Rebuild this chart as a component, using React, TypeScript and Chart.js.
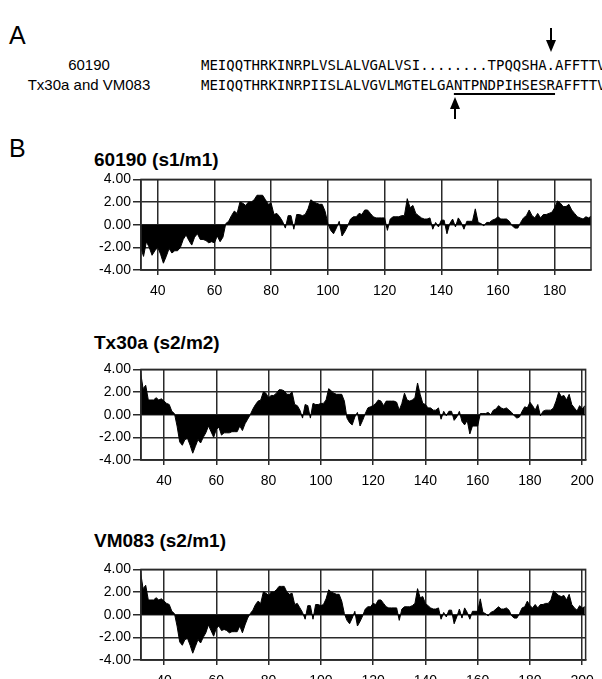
import React, { useEffect, useRef } from "react";
import { Chart, registerables } from "chart.js";

Chart.register(...registerables);

// ---------- DATA ----------
const seqLabel1 = "60190";
const seqLabel2 = "Tx30a and VM083";
const seq1 = "MEIQQTHRKINRPLVSLALVGALVSI........TPQQSHA.AFFTTV";
const seq2Pre = "MEIQQTHRKINRPIISLALVGVLMGTELGA";
const seq2Under = "NTPNDPIHSESR";
const seq2Post = "AFFTTV";

const title1 = "60190 (s1/m1)";
const title2 = "Tx30a (s2/m2)";
const title3 = "VM083 (s2/m1)";

const yTicks = [-4, -2, 0, 2, 4];
const xTicks1 = [40, 60, 80, 100, 120, 140, 160, 180];
const xTicks2 = [40, 60, 80, 100, 120, 140, 160, 180, 200];

// residue numbering of first value
const start60190 = 34;
const hyd60190 = [
  -2.0, -2.8, -1.5, -2.0, -2.7, -2.3, -2.0, -2.6, -3.4, -2.8,
  -2.1, -2.5, -2.3, -2.3, -2.0, -1.3, -0.9, -1.4, -1.8, -1.1,
  -0.8, -1.3, -1.3, -1.4, -1.6, -1.5, -1.6, -1.0, -1.5, -1.1,
  0.1, 0.3, 0.8, 1.2, 1.0, 2.0, 1.9, 1.7, 2.0, 2.0,
  2.2, 2.6, 2.6, 2.6, 2.2, 1.8, 1.9, 0.9, 1.0, 0.7,
  0.3, -0.3, 0.8, 0.8, -0.4, 0.9, 0.9, 0.8, 0.9, 1.4,
  2.2, 2.0, 1.9, 1.8, 1.8, 1.2, 0.1, -0.5, -0.8, -0.3,
  0.3, -1.0, -0.6, -0.1, 0.5, 0.7, 0.7, 1.0, 0.9, 1.3,
  1.3, 1.0, 0.7, 0.6, 0.6, 0.6, 0.6, -0.5, 0.5, 0.7,
  0.7, 0.7, 0.8, 0.8, 2.3, 1.5, 1.7, 1.0, 0.8, 0.6,
  0.5, 0.5, 0.6, -0.4, 0.2, -0.2, 0.4, 0.4, -0.8, 0.1,
  0.5, -0.2, 0.6, 0.2, -0.4, 0.3, 0.3, 0.3, 1.4, 0.2,
  0.1, -0.1, 0.2, 0.2, 0.4, 0.5, 0.7, 0.5, 0.5, 0.5,
  0.3, -0.1, -0.3, -0.3, 0.2, 0.6, 0.8, 1.3, 0.8, 0.6,
  1.0, 0.6, 0.9, 0.9, 1.0, 1.1, 1.5, 2.1, 1.9, 1.6,
  1.6, 1.8, 1.3, 1.0, 0.7, 0.6, 0.5, 0.7, 0.6, 0.8,
];

const startTx30a = 31;
const hydTx30a = [
  3.8, 2.3, 2.6, 1.3, 1.3, 1.3, 1.5, 1.3, 1.4, 1.2,
  1.0, 0.9, 0.3, 0.1, -1.0, -2.4, -2.7, -2.2, -2.1, -2.7,
  -3.4, -2.8, -2.2, -2.5, -2.0, -1.6, -1.0, -1.5, -2.0, -1.3,
  -1.1, -1.8, -1.6, -1.6, -1.6, -1.5, -1.5, -1.5, -1.0, -1.4,
  -0.8, -0.4, 0.0, 0.5, 0.9, 1.2, 1.3, 2.0, 1.9, 1.5,
  1.7, 1.7, 1.9, 2.2, 2.2, 2.1, 1.8, 1.8, 2.0, 0.9,
  0.8, 0.4, -0.3, 0.9, 0.8, -0.3, 1.0, 0.9, 0.9, 1.0,
  1.0, 1.3, 2.3, 2.1, 1.9, 1.8, 1.8, 1.8, 1.2, -0.3,
  -0.7, -0.9, -0.2, 0.2, -1.0, -0.5, 0.1, 0.6, 0.7, 0.8,
  1.0, 1.3, 1.2, 0.8, 1.2, 1.2, 1.2, 1.2, 1.1, 0.4,
  1.0, 1.9, 1.3, 1.2, 1.3, 1.5, 2.8, 1.8, 1.0, 0.9,
  0.6, 0.6, 0.4, 0.4, 0.6, -0.4, 0.3, -0.1, 0.3, 0.3,
  -0.5, -0.2, 0.3, -0.6, -0.9, -0.5, -1.7, -1.0, -1.0, -1.0,
  0.1, 0.1, 0.1, 0.2, 0.0, 0.4, 0.5, 0.8, 0.6, 0.5,
  0.6, 0.4, 0.2, -0.1, -0.3, -0.2, 0.3, 0.7, 0.6, 1.1,
  0.8, 0.4, 0.9, -0.1, 0.3, 0.4, 0.4, 0.4, 0.6, 1.2,
  2.0, 1.6, 1.7, 1.3, 1.8, 0.9, 0.6, 0.3, 0.8, 0.5,
  0.8,
];

const startVM083 = 31;
const hydVM083 = [
  3.8, 2.3, 2.6, 1.3, 1.3, 1.3, 1.5, 1.3, 1.4, 1.2,
  1.0, 0.9, 0.3, 0.1, -1.0, -2.4, -2.7, -2.2, -2.1, -2.7,
  -3.4, -2.8, -2.2, -2.5, -2.0, -1.6, -0.9, -1.4, -1.9, -1.2,
  -1.0, -1.4, -1.3, -1.4, -1.6, -1.5, -1.5, -1.5, -1.0, -1.6,
  -0.9, -0.3, 0.1, 0.4, 0.9, 1.2, 1.0, 2.0, 1.9, 1.7,
  2.0, 2.0, 2.2, 2.5, 2.5, 2.5, 2.0, 1.8, 1.9, 0.9,
  1.0, 0.6, 0.2, -0.4, 0.8, 0.8, -0.4, 0.9, 0.9, 0.8,
  0.9, 1.4, 2.2, 2.0, 1.9, 1.8, 1.8, 1.2, 0.1, -0.5,
  -0.8, -0.3, 0.3, -1.0, -0.6, -0.1, 0.5, 0.7, 0.7, 1.0,
  0.9, 1.3, 1.3, 1.0, 0.7, 0.6, 0.6, 0.6, 0.6, -0.5,
  0.5, 0.7, 0.7, 0.7, 0.8, 1.0, 2.3, 1.5, 1.6, 1.0,
  0.8, 0.6, 0.5, 0.5, 0.6, -0.4, 0.2, -0.2, 0.4, 0.4,
  -0.8, -0.2, 0.5, -0.3, 0.6, 0.2, -0.4, 0.3, 0.3, 0.3,
  1.4, 0.2, 0.1, -0.1, 0.2, 0.3, 0.5, 0.7, 0.5, 0.5,
  0.6, 0.4, -0.1, -0.3, -0.3, 0.1, 0.6, 0.7, 1.2, 0.8,
  0.6, 0.9, 0.6, 0.9, 0.9, 1.0, 1.0, 1.3, 2.1, 1.9,
  1.7, 1.6, 1.7, 1.3, 1.8, 0.9, 0.6, 0.4, 0.8, 0.6,
  0.7,
];

// ---------- LAYOUT ----------
const SANS = '"Liberation Sans", Arial, Helvetica, sans-serif';
const MONO = '"DejaVu Sans Mono", "Liberation Mono", monospace';
const CANVAS_LEFT = 88;
const CANVAS_W = 514;
const PAD_TOP = 10;
const PLOT_H = 91;
const X_AXIS_H = 28;
const Y_AXIS_W = 53;
const GRID = "#2a2a2a";

type PanelProps = {
  start: number;
  values: number[];
  xMin: number;
  xMax: number;
  xTicks: number[];
  plotTop: number;
  padRight: number;
};

function HydroPanel({ start, values, xMin, xMax, xTicks, plotTop, padRight }: PanelProps) {
  const ref = useRef<HTMLCanvasElement | null>(null);
  useEffect(() => {
    const canvas = ref.current;
    if (!canvas) return;
    const points = values.map((v, i) => ({ x: start + i, y: v }));
    const framePlugin = {
      id: "frame",
      afterDatasetsDraw(chart: any) {
        const { ctx, chartArea: a } = chart;
        ctx.save();
        ctx.strokeStyle = GRID;
        ctx.lineWidth = 1.5;
        ctx.strokeRect(a.left, a.top, a.right - a.left, a.bottom - a.top);
        ctx.restore();
      },
    };
    const tickFont = { family: SANS, size: 14 };
    const chart = new Chart(canvas, {
      type: "line",
      data: {
        datasets: [
          {
            data: points,
            borderColor: "#000",
            backgroundColor: "#000",
            borderWidth: 1,
            pointRadius: 0,
            fill: "origin",
            tension: 0,
          },
        ],
      },
      options: {
        animation: false,
        responsive: false,
        maintainAspectRatio: false,
        events: [],
        plugins: { legend: { display: false }, tooltip: { enabled: false } },
        layout: { padding: { top: PAD_TOP, right: padRight, left: 0, bottom: 0 } },
        scales: {
          x: {
            type: "linear",
            min: xMin,
            max: xMax,
            afterFit: (s: any) => {
              s.height = X_AXIS_H;
            },
            afterBuildTicks: (s: any) => {
              s.ticks = xTicks.map((v) => ({ value: v }));
            },
            ticks: {
              color: "#000",
              font: tickFont,
              padding: 8,
              maxRotation: 0,
              autoSkip: false,
            },
            grid: { color: GRID, lineWidth: 1.5, tickLength: 5 },
            border: { color: GRID, width: 1.5 },
          },
          y: {
            min: -4,
            max: 4,
            afterFit: (s: any) => {
              s.width = Y_AXIS_W;
            },
            afterBuildTicks: (s: any) => {
              s.ticks = yTicks.map((v) => ({ value: v }));
            },
            ticks: {
              color: "#000",
              font: tickFont,
              padding: 2,
              callback: (v: any) => Number(v).toFixed(2),
            },
            grid: { color: GRID, lineWidth: 1.5, tickLength: 8 },
            border: { color: GRID, width: 1.5 },
          },
        },
      },
      plugins: [framePlugin],
    } as any);
    return () => chart.destroy();
  }, []);
  const h = PAD_TOP + PLOT_H + X_AXIS_H;
  return (
    <canvas
      ref={ref}
      width={CANVAS_W}
      height={h}
      style={{ position: "absolute", left: CANVAS_LEFT, top: plotTop - PAD_TOP, width: CANVAS_W, height: h }}
    />
  );
}

function Txt({
  x,
  baseline,
  size,
  children,
  bold,
  family,
  align,
  width,
}: {
  x: number;
  baseline: number;
  size: number;
  children: React.ReactNode;
  bold?: boolean;
  family?: string;
  align?: "left" | "center";
  width?: number;
}) {
  return (
    <div
      style={{
        position: "absolute",
        left: x,
        top: baseline - 0.85 * size,
        fontSize: size,
        lineHeight: `${size}px`,
        fontFamily: family || SANS,
        fontWeight: bold ? "bold" : "normal",
        whiteSpace: "pre",
        color: "#000",
        textAlign: align || "left",
        width: width,
      }}
    >
      {children}
    </div>
  );
}

export default function App() {
  return (
    <div
      style={{
        position: "absolute",
        left: 0,
        top: 0,
        width: 602,
        height: 679,
        overflow: "hidden",
        background: "#fff",
      }}
    >
      <Txt x={9} baseline={44} size={25}>A</Txt>
      <Txt x={0} width={178} align="center" baseline={70} size={15}>{seqLabel1}</Txt>
      <Txt x={0} width={178} align="center" baseline={90} size={15}>{seqLabel2}</Txt>
      <Txt x={201} baseline={70} size={14} family={MONO}>{seq1}</Txt>
      <Txt x={201} baseline={90} size={14} family={MONO}>
        {seq2Pre}
        <span style={{ textDecoration: "underline", textDecorationThickness: "2px", textUnderlineOffset: "3px" }}>
          {seq2Under}
        </span>
        {seq2Post}
      </Txt>
      <svg width={602} height={140} style={{ position: "absolute", left: 0, top: 0 }}>
        <line x1={551} y1={28} x2={551} y2={42} stroke="#000" strokeWidth={2} />
        <polygon points="546,40 556,40 551,52" fill="#000" />
        <line x1={455} y1={106} x2={455} y2={119} stroke="#000" strokeWidth={2} />
        <polygon points="450,109 460,109 455,97" fill="#000" />
      </svg>
      <Txt x={9} baseline={157} size={25}>B</Txt>

      <Txt x={94} baseline={166} size={19} bold>{title1}</Txt>
      <HydroPanel
        start={start60190}
        values={hyd60190}
        xMin={34.1}
        xMax={192.8}
        xTicks={xTicks1}
        plotTop={179}
        padRight={11}
      />

      <Txt x={94} baseline={349} size={19} bold>{title2}</Txt>
      <HydroPanel
        start={startTx30a}
        values={hydTx30a}
        xMin={31.2}
        xMax={201.3}
        xTicks={xTicks2}
        plotTop={369}
        padRight={12}
      />

      <Txt x={94} baseline={547} size={19} bold>{title3}</Txt>
      <HydroPanel
        start={startVM083}
        values={hydVM083}
        xMin={31.2}
        xMax={201.3}
        xTicks={xTicks2}
        plotTop={569}
        padRight={12}
      />
    </div>
  );
}
